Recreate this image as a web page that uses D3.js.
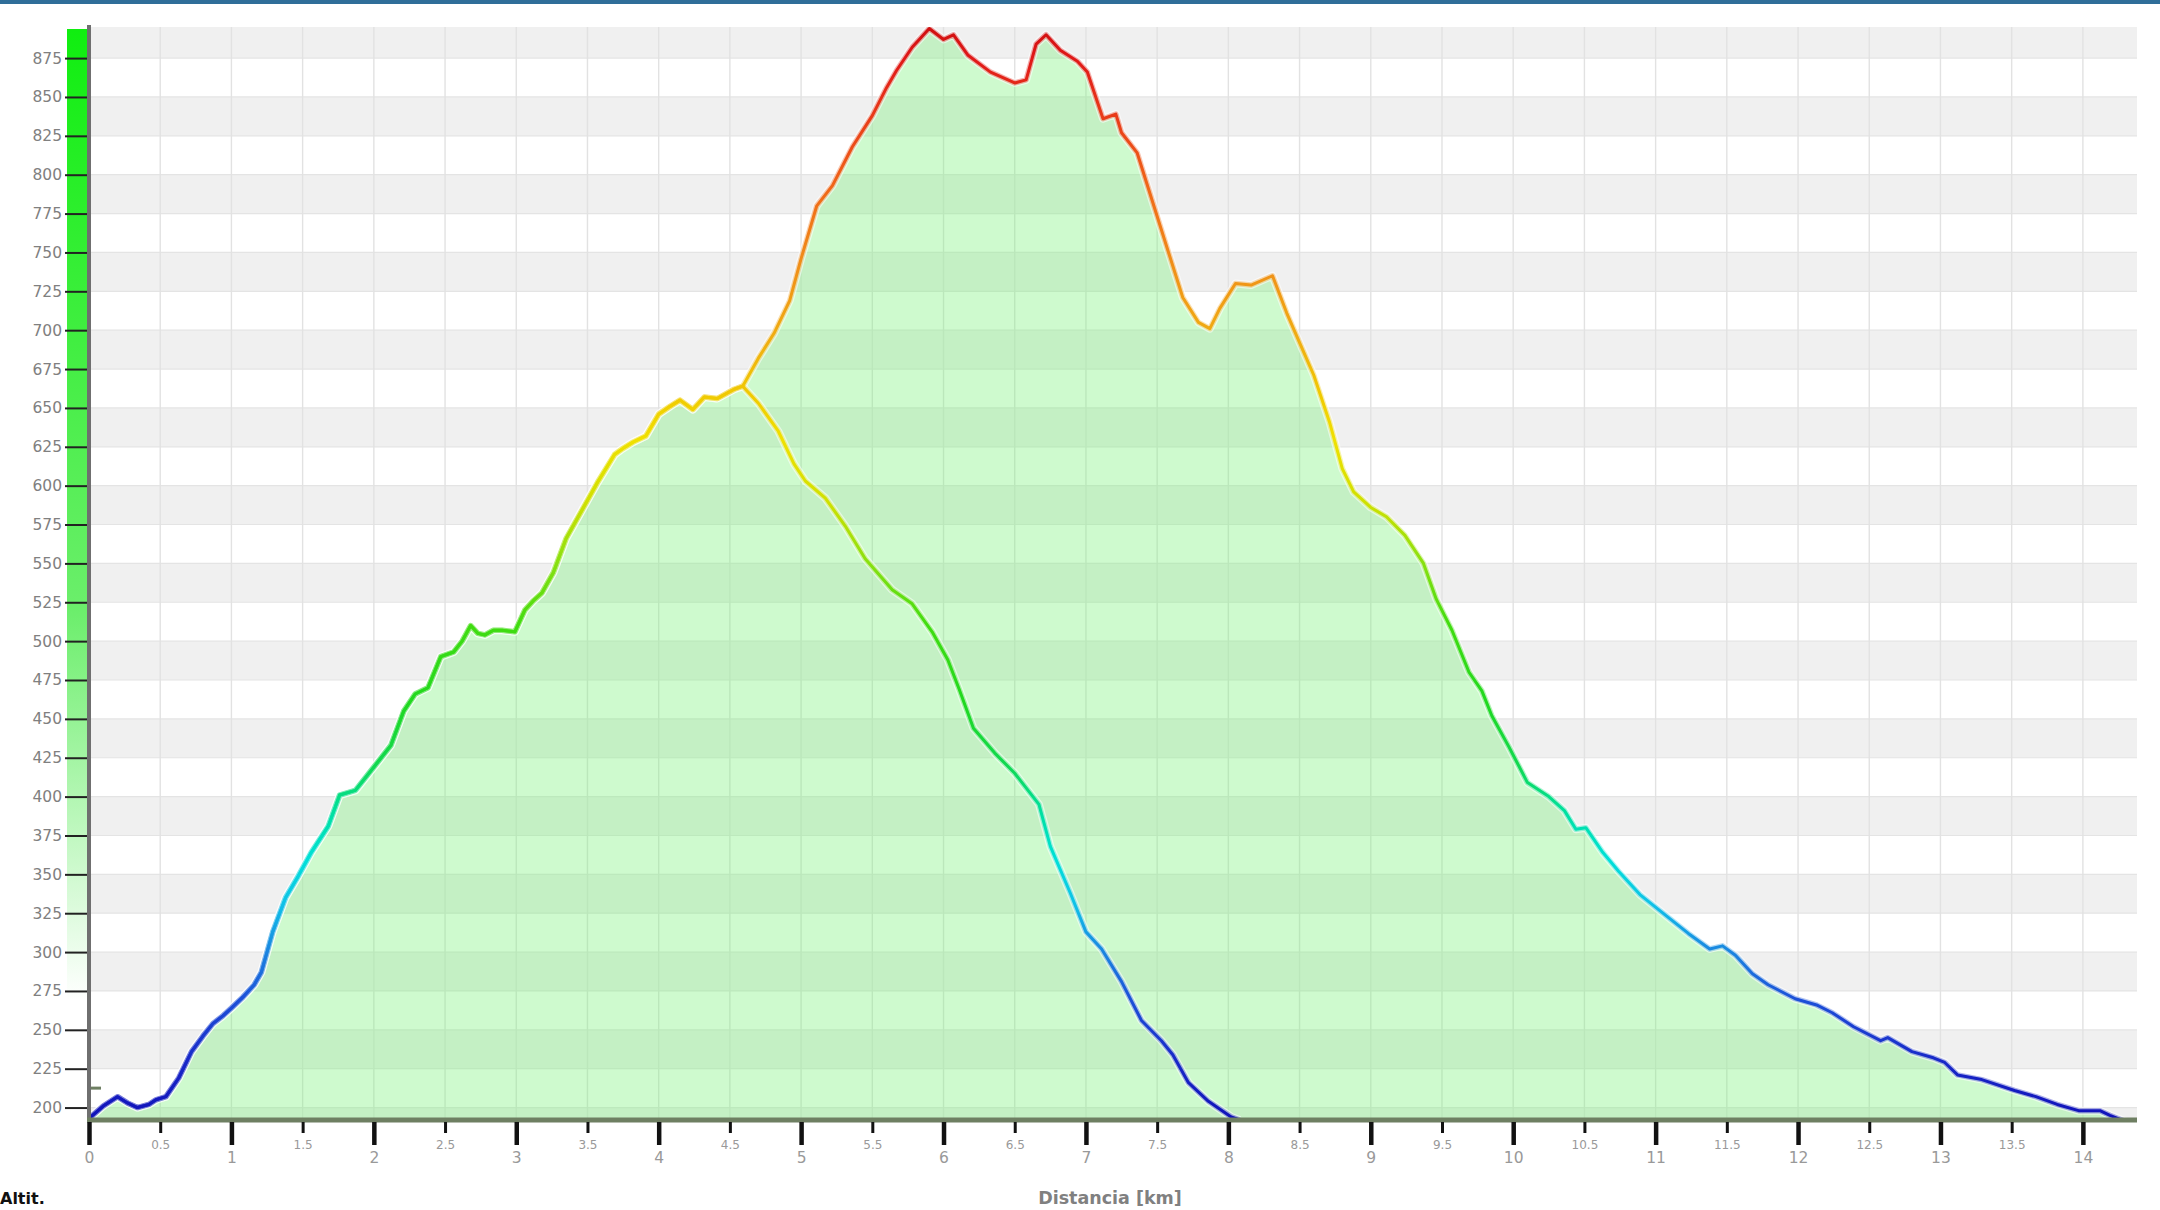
<!DOCTYPE html>
<html><head><meta charset="utf-8">
<script src="https://cdn.jsdelivr.net/npm/d3@7"></script>
<style>html,body{margin:0;padding:0;background:#fff;} svg{display:block}</style>
</head><body>
<svg id="chart" width="2160" height="1210"></svg>
<script>
// ---- data (distance km, altitude m) ----
const longKm = [0,0.1,0.2,0.27,0.34,0.42,0.47,0.54,0.63,0.72,0.8,0.87,0.94,1.0,1.08,1.16,1.21,1.29,1.38,1.47,1.56,1.68,1.76,1.87,2.0,2.12,2.21,2.29,2.38,2.47,2.56,2.62,2.68,2.73,2.78,2.84,2.9,2.99,3.06,3.12,3.18,3.26,3.35,3.46,3.57,3.69,3.75,3.82,3.91,4.0,4.08,4.15,4.24,4.32,4.41,4.53,4.59,
  4.7,4.81,4.92,5.0,5.11,5.22,5.36,5.5,5.6,5.67,5.78,5.9,6.0,6.07,6.17,6.33,6.5,6.58,6.65,6.72,6.82,6.94,7.01,7.12,7.21,7.25,7.36,7.47,7.58,7.68,7.79,7.87,7.94,8.05,8.16,8.31,8.41,8.5,8.6,8.71,8.8,8.88,9.0,9.11,9.24,9.37,9.46,9.57,9.69,9.78,9.85,9.97,10.1,10.25,10.36,10.44,10.51,10.63,10.74,10.89,11.08,11.23,11.38,11.47,11.56,11.68,11.79,11.98,12.13,12.24,12.39,12.58,12.63,12.8,12.95,13.03,13.12,13.29,13.52,13.67,13.82,13.97,14.12,14.19,14.3,14.35];
const longAlt = [193,201,207,203,200,202,205,207,219,236,246,254,259,264,271,279,287,313,335,349,364,381,401,404,419,433,455,466,470,490,493,500,510,505,504,507,507,506,520,526,531,544,566,584,602,620,624,628,632,646,651,655,649,657,656,662,664,
  682,698,719,746,780,793,818,838,856,867,882,894,887,890,877,866,859,861,884,890,880,873,866,836,839,827,814,782,750,721,705,701,714,730,729,735,711,692,671,641,611,596,586,580,568,550,527,507,480,468,452,432,409,400,391,379,380,364,352,337,323,312,302,304,298,286,279,270,266,261,252,243,245,236,232,229,221,218,211,207,202,198,198,195,191,190];
const shortKm = [0,0.1,0.2,0.27,0.34,0.42,0.47,0.54,0.63,0.72,0.8,0.87,0.94,1.0,1.08,1.16,1.21,1.29,1.38,1.47,1.56,1.68,1.76,1.87,2.0,2.12,2.21,2.29,2.38,2.47,2.56,2.62,2.68,2.73,2.78,2.84,2.9,2.99,3.06,3.12,3.18,3.26,3.35,3.46,3.57,3.69,3.75,3.82,3.91,4.0,4.08,4.15,4.24,4.32,4.41,4.53,4.59,
  4.7,4.84,4.95,5.03,5.17,5.31,5.45,5.64,5.78,5.92,6.03,6.11,6.21,6.36,6.5,6.67,6.75,6.89,7.0,7.11,7.25,7.39,7.53,7.61,7.72,7.86,8.02,8.08];
const shortAlt = [193,201,207,203,200,202,205,207,219,236,246,254,259,264,271,279,287,313,335,349,364,381,401,404,419,433,455,466,470,490,493,500,510,505,504,507,507,506,520,526,531,544,566,584,602,620,624,628,632,646,651,655,649,657,656,662,664,
  653,635,614,603,592,574,553,533,524,506,488,469,444,428,415,395,368,338,313,302,281,256,243,234,216,204,194,192];
const yTicks = [200,225,250,275,300,325,350,375,400,425,450,475,500,525,550,575,600,625,650,675,700,725,750,775,800,825,850,875];
const xMajorTicks = [0,1,2,3,4,5,6,7,8,9,10,11,12,13,14];
const xMinorTicks = [0.5,1.5,2.5,3.5,4.5,5.5,6.5,7.5,8.5,9.5,10.5,11.5,12.5,13.5];
const colorAlt = [190,230,270,300,330,360,390,420,460,510,550,590,630,655,690,740,790,840,875,895];
const colorHex = ["#1010b8","#1828c8","#1c50d8","#1a84e0","#10c0e8","#00e0d8","#00e0a0","#10d850","#20d820","#40dc10","#88e010","#d0e000","#f0e000","#f0cc00","#f0b010","#f09018","#f06818","#e83818","#e01818","#d01010"];

// ---- chart ----
const svg = d3.select("#chart");
const X0 = 89, X1 = 2137, YB = 1120, YT = 27;
const x = d3.scaleLinear().domain([0, 14.38]).range([X0, X1]);
const y = d3.scaleLinear().domain([192, 895]).range([YB, YT]);

svg.append("rect").attr("x",0).attr("y",0).attr("width",2160).attr("height",1210).attr("fill","#fff");
svg.append("rect").attr("x",0).attr("y",0).attr("width",2160).attr("height",4).attr("fill","#2f6e99");

const defs = svg.append("defs");
defs.append("clipPath").attr("id","plot").append("rect")
  .attr("x",X0).attr("y",YT).attr("width",X1-X0).attr("height",YB-YT);
const grad = defs.append("linearGradient").attr("id","altgrad")
  .attr("gradientUnits","userSpaceOnUse").attr("x1",0).attr("x2",0)
  .attr("y1",y(colorAlt[0])).attr("y2",y(colorAlt[colorAlt.length-1]));
colorAlt.forEach((a,i)=>grad.append("stop")
  .attr("offset",(a-colorAlt[0])/(colorAlt[colorAlt.length-1]-colorAlt[0]))
  .attr("stop-color",colorHex[i]));
const barGrad = defs.append("linearGradient").attr("id","bargrad")
  .attr("gradientUnits","userSpaceOnUse").attr("x1",0).attr("x2",0).attr("y1",30).attr("y2",1000);
barGrad.append("stop").attr("offset",0).attr("stop-color","#10ee10");
barGrad.append("stop").attr("offset",0.6).attr("stop-color","#6cee6c");
barGrad.append("stop").attr("offset",1).attr("stop-color","#ffffff");

const plot = svg.append("g").attr("clip-path","url(#plot)");
// bands
const bandStarts = d3.range(175, 900, 25).filter(v => (v/25) % 2 === 1);
plot.selectAll("rect.band").data(bandStarts).enter().append("rect")
  .attr("x",X0).attr("width",X1-X0)
  .attr("y",d=>y(Math.min(d+25,895))).attr("height",d=>y(Math.max(d,192))-y(Math.min(d+25,895)))
  .attr("fill","#f0f0f0");
// horizontal grid
plot.selectAll("line.hg").data(yTicks).enter().append("line")
  .attr("x1",X0).attr("x2",X1).attr("y1",d=>y(d)).attr("y2",d=>y(d))
  .attr("stroke","#e4e4e4").attr("stroke-width",1.2);
// vertical grid
plot.selectAll("line.vg").data(xMajorTicks.concat(xMinorTicks)).enter().append("line")
  .attr("x1",d=>x(d)).attr("x2",d=>x(d)).attr("y1",YT).attr("y2",YB)
  .attr("stroke","#e2e2e2").attr("stroke-width",1.4);

const longData = longKm.map((k,i)=>[k,longAlt[i]]);
const shortData = shortKm.map((k,i)=>[k,shortAlt[i]]);
const area = d3.area().x(d=>x(d[0])).y0(YB).y1(d=>y(d[1]));
const line = d3.line().x(d=>x(d[0])).y(d=>y(d[1]));

plot.append("path").datum(longData).attr("d",area).attr("fill","rgb(120,240,120)").attr("fill-opacity",0.36);

[longData, shortData].forEach(dat=>{
  plot.append("path").datum(dat).attr("d",line).attr("fill","none")
    .attr("stroke","#ffffff").attr("stroke-opacity",0.55).attr("stroke-width",8)
    .attr("stroke-linejoin","round");
});
[shortData, longData].forEach(dat=>{
  plot.append("path").datum(dat).attr("d",line).attr("fill","none")
    .attr("stroke","url(#altgrad)").attr("stroke-opacity",0.35).attr("stroke-width",5.5)
    .attr("stroke-linejoin","round");
  plot.append("path").datum(dat).attr("d",line).attr("fill","none")
    .attr("stroke","url(#altgrad)").attr("stroke-width",3)
    .attr("stroke-linejoin","round").attr("stroke-linecap","round");
});

// left green bar
svg.append("rect").attr("x",67).attr("y",29).attr("width",21).attr("height",YB-29).attr("fill","url(#bargrad)");

// y axis
const yAxis = d3.axisLeft(y).tickValues(yTicks).tickSize(23).tickPadding(3);
const gy = svg.append("g").attr("transform","translate(88,0)").call(yAxis);
gy.select(".domain").remove();
gy.selectAll(".tick line").attr("stroke","#222").attr("stroke-width",2);
gy.selectAll(".tick text").attr("fill","#808080").style("font-family","'DejaVu Sans',Verdana,sans-serif").style("font-size","15.5px");

// axis lines
svg.append("line").attr("x1",89).attr("x2",89).attr("y1",25).attr("y2",YB+2).attr("stroke","#6f6f6f").attr("stroke-width",4);
svg.append("line").attr("x1",87).attr("x2",X1).attr("y1",YB).attr("y2",YB).attr("stroke","#6e7f62").attr("stroke-width",5);
svg.append("line").attr("x1",91).attr("x2",101).attr("y1",y(212.5)).attr("y2",y(212.5)).attr("stroke","#6e7f62").attr("stroke-width",3);

// x axis major
const xMajor = d3.axisBottom(x).tickValues(xMajorTicks).tickSize(23).tickPadding(6.5).tickFormat(d3.format("d"));
const gx = svg.append("g").attr("transform",`translate(0,${YB+2})`).call(xMajor);
gx.select(".domain").remove();
gx.selectAll(".tick line").attr("stroke","#111").attr("stroke-width",4.5);
gx.selectAll(".tick text").attr("fill","#999").style("font-family","'DejaVu Sans',Verdana,sans-serif").style("font-size","15.5px");
// x axis minor
const xMinor = d3.axisBottom(x).tickValues(xMinorTicks).tickSize(11).tickPadding(7.5).tickFormat(d=>String(d));
const gm = svg.append("g").attr("transform",`translate(0,${YB+2})`).call(xMinor);
gm.select(".domain").remove();
gm.selectAll(".tick line").attr("stroke","#111").attr("stroke-width",3);
gm.selectAll(".tick text").attr("fill","#999").style("font-family","'DejaVu Sans',Verdana,sans-serif").style("font-size","12px");

// titles
svg.append("text").attr("x",1110).attr("y",1204).attr("text-anchor","middle")
  .attr("fill","#808080").style("font-family","'DejaVu Sans',Verdana,sans-serif").style("font-weight","bold").style("font-size","17.5px")
  .text("Distancia [km]");
svg.append("text").attr("x",0).attr("y",1204)
  .attr("fill","#111").style("font-family","'DejaVu Sans',Verdana,sans-serif").style("font-weight","bold").style("font-size","16px")
  .text("Altit.");
</script>
</body></html>
